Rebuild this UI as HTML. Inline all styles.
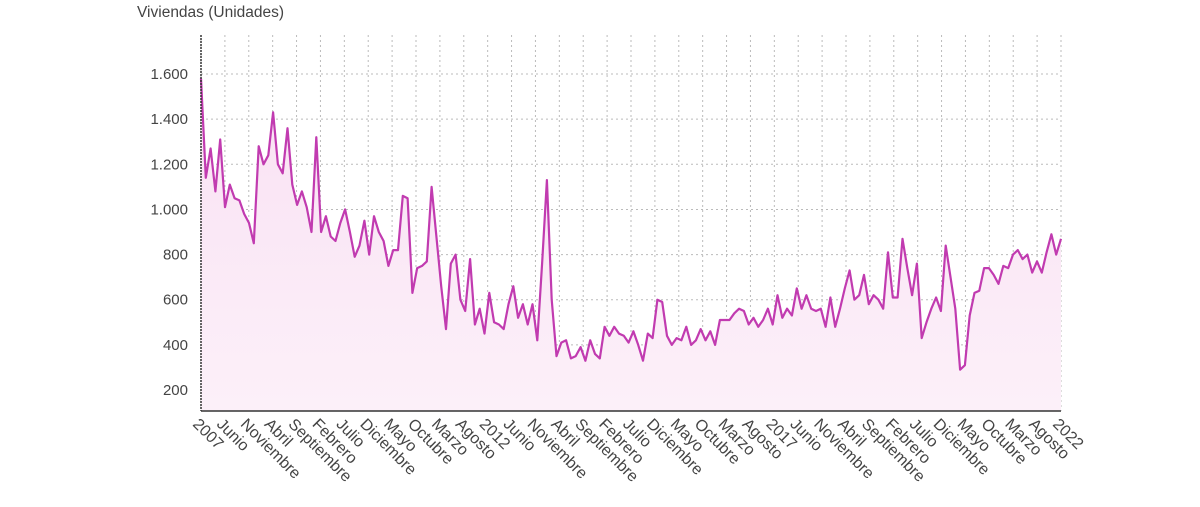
<!DOCTYPE html>
<html><head><meta charset="utf-8"><style>
body{margin:0;background:#fff;font-family:"Liberation Sans",sans-serif;}
svg text{font-family:"Liberation Sans",sans-serif;fill:#444;}
</style></head><body>
<svg id="chart" width="1200" height="502" viewBox="0 0 1200 502">
<defs><linearGradient id="fg" x1="0" y1="0" x2="0" y2="1"><stop offset="0" stop-color="#f9e1f3"/><stop offset="1" stop-color="#fcf0f9"/></linearGradient></defs>
<text x="137" y="17" font-size="15.5">Viviendas (Unidades)</text>
<g id="grid"></g><g id="area"></g><g id="axes"></g>
</svg>
<script>
const values=[
1580,1140,1270,1080,1310,1010,1110,1050,1040,980,940,850,
1280,1200,1240,1430,1200,1160,1360,1110,1020,1080,1010,900,
1320,900,970,880,860,940,1000,900,790,840,950,800,
970,900,860,750,820,820,1060,1050,630,740,750,770,
1100,880,660,470,760,800,600,550,780,490,560,450,
630,500,490,470,580,660,520,580,490,580,420,760,
1130,600,350,410,420,340,350,390,330,420,360,340,
480,440,480,450,440,410,460,400,330,450,430,600,
590,440,400,430,420,480,400,420,470,420,460,400,
510,510,510,540,560,550,490,520,480,510,560,490,
620,520,560,530,650,560,620,560,550,560,480,610,
480,560,650,730,600,620,710,580,620,600,560,810,
610,610,870,740,620,760,430,500,560,610,550,840,
700,560,290,310,530,630,640,740,740,710,670,750,
740,800,820,780,800,720,770,720,810,890,800,870];
const xLabels=["2007","Junio","Noviembre","Abril","Septiembre","Febrero","Julio","Diciembre","Mayo","Octubre","Marzo","Agosto","2012","Junio","Noviembre","Abril","Septiembre","Febrero","Julio","Diciembre","Mayo","Octubre","Marzo","Agosto","2017","Junio","Noviembre","Abril","Septiembre","Febrero","Julio","Diciembre","Mayo","Octubre","Marzo","Agosto","2022"];
const yTicks=[200,400,600,800,1000,1200,1400,1600];
const yTickLabels=["200","400","600","800","1.000","1.200","1.400","1.600"];
const X0=201,X1=1061,YT=35,YB=411;
const yv=v=>390+(200-v)*45.14/200;
const xi=i=>X0+i*(X1-X0)/(values.length-1);
const xl=k=>X0+k*(X1-X0)/(xLabels.length-1);
const NS="http://www.w3.org/2000/svg";
function mk(t,a,p){const e=document.createElementNS(NS,t);for(const k in a)e.setAttribute(k,a[k]);p.appendChild(e);return e;}
const grid=document.getElementById('grid'),area=document.getElementById('area'),axes=document.getElementById('axes');
yTicks.forEach((v,i)=>{
 const l=mk('line',{x1:X0,x2:X1,y1:yv(v),y2:yv(v),stroke:'#bbb','stroke-dasharray':'2,3'},grid);
 
 
 const t=mk('text',{x:188,y:yv(v)+5,'font-size':15,'text-anchor':'end'},axes);
 t.textContent=yTickLabels[i];
 
 
});
xLabels.forEach((s,k)=>{
 const x=xl(k);
 const l=mk('line',{x1:x,x2:x,y1:YT,y2:YB,stroke:'#bbb','stroke-dasharray':'2,3'},grid);
 
 
 const t=mk('text',{x:x-9,y:YB+14,'font-size':16,transform:`rotate(45 ${x-9} ${YB+14})`},axes);
 t.textContent=s;
 
 
});
let d='';values.forEach((v,i)=>{d+=(i?'L':'M')+xi(i).toFixed(1)+','+yv(v).toFixed(1);});
const fill=mk('path',{d:d+`L${X1},${YB}L${X0},${YB}Z`,fill:'url(#fg)'},area);


const line=mk('path',{d:d,fill:'none',stroke:'#c13bb0','stroke-width':2.2,'stroke-linejoin':'round'},area);


const ax=mk('line',{x1:X0,x2:X0,y1:YT,y2:YB,stroke:'#333','stroke-width':1.5,'stroke-dasharray':'2,1'},axes);


const bx=mk('line',{x1:X0,x2:X1,y1:YB,y2:YB,stroke:'#333','stroke-width':1.5},axes);


</script>
</body></html>
